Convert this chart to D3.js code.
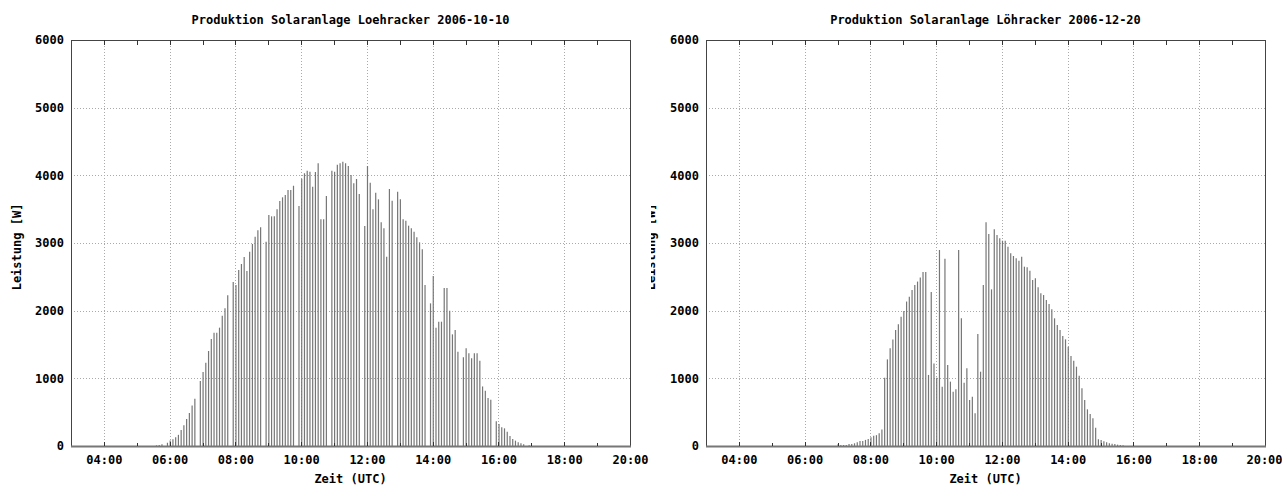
<!DOCTYPE html>
<html>
<head>
<meta charset="utf-8">
<script src="https://cdn.jsdelivr.net/npm/d3@7"></script>
<style>
  body { margin: 0; background: #fff; }
  svg { display: block; }
  text { font-family: "DejaVu Sans Mono", monospace; font-weight: bold; font-size: 12px; fill: #000; }
</style>
</head>
<body>
<svg width="1282" height="486"></svg>
<script>
// x axis: hours 03:00 .. 20:00, labels every 2 hours
const hourTicks = d3.range(3, 21);
const labelHours = d3.range(4, 21, 2);
const yTicks = [0, 1000, 2000, 3000, 4000, 5000, 6000];

const leftTitle = "Produktion Solaranlage Loehracker 2006-10-10";
const rightTitle = "Produktion Solaranlage Löhracker 2006-12-20";

// 5 minute samples, null = missing sample
const leftStart = "05:36";
const leftValues = [
  10, 15, 25, null, 48,
  82, 100, 130, 165, 235, 308, 400, 487, 600, 700, null, 960,
  1094, 1232, 1404, 1581, 1675, 1675, 1749, 1926, 2034, 2227, null, 2424,
  2379, 2601, 2690, 2794, 2586, 2872, 2985, 3094, 3187, 3231, null, 3020,
  3414, 3394, 3394, 3497, 3621, 3675, 3709, 3783, 3783, 3847, null, 3547,
  3950, 4030, 4069, 4054, 3832, 4050, 4177, 3350, 3350, 3695, null, 4069,
  4054, 4158, 4177, 4202, 4177, 4138, 4005, 3882, 3946, 3724, null, 3251,
  4138, 3892, 3497, 3744, 3645, 3305, 3217, 2798, 3798, 3626, null, 3759,
  3645, 3350, 3330, 3256, 3217, 3167, 3084, 3010, 2906, 2379, null, 2108,
  2512, 1749, 1837, 1837, 2335, 2335, 2000, 1650, 1714, 1394, null, 1310,
  1443, 1369, 1296, 1369, 1369, 1261, 880, 815, 709, 685, null, 365,
  325, 276, 261, 212, 148, 103, 79, 54, 39, 25, null, 12
];

const rightStart = "07:01";
const rightValues = [
  25, 15, 15, 15, 30, 30, 40, 55, 75, 75, 90, 105, 130, 150, 160, 190, 245,
  1010, 1280, 1445, 1575, 1715, 1800, 1910, 1995, 2135, 2205, 2305, 2380, 2430, 2490, 2570, 2570,
  1050, 2275, 1220, 1010, 2897, 877, 2768, 1197, 951, 803, 837, 2897,
  1887, 936, 1148, 680, 729, 483,
  1655, 1098, 2380, 3305, 3133, 2315, 3202, 3118, 3069, 3034, 3034, 2946,
  2847, 2808, 2773, 2739, 2798, 2650, 2640, 2591, 2453, 2478, 2345, 2256,
  2231, 2158, 2098, 2020, 1887, 1788, 1714, 1626, 1576, 1468, 1330, 1261,
  1172, 1039, 852, 680, 542, 473, 409, 271, 99, 89, 69, 54, 39, 34, 30, 20,
  15, 10
];

function toMin(s) {
  const p = s.split(":").map(Number);
  return p[0] * 60 + p[1];
}

function series(start, values) {
  const t0 = toMin(start);
  return values.map((v, i) => ({ t: t0 + i * 5, v: v })).filter(d => d.v != null);
}

const svg = d3.select("svg");
const pad = n => (n < 10 ? "0" : "") + n;

function drawChart(cfg) {
  const x = d3.scaleLinear().domain([3 * 60, 20 * 60]).range([cfg.x0, cfg.x1]);
  const y = d3.scaleLinear().domain([0, 6000]).range([446, 40]);
  const g = svg.append("g");

  // grid
  g.append("g").selectAll("line.vg")
    .data(labelHours.filter(h => h < 20))
    .enter().append("line")
    .attr("x1", h => Math.round(x(h * 60)) + 0.5).attr("x2", h => Math.round(x(h * 60)) + 0.5)
    .attr("y1", y(6000)).attr("y2", y(0))
    .attr("stroke", "#aaa").attr("stroke-dasharray", "1,2");
  g.append("g").selectAll("line.hg")
    .data(yTicks.filter(v => v > 0 && v < 6000))
    .enter().append("line")
    .attr("x1", cfg.x0).attr("x2", cfg.x1)
    .attr("y1", v => Math.round(y(v)) + 0.5).attr("y2", v => Math.round(y(v)) + 0.5)
    .attr("stroke", "#aaa").attr("stroke-dasharray", "1,2");

  // bars (impulses)
  g.append("g").selectAll("line.bar")
    .data(series(cfg.start, cfg.values))
    .enter().append("line")
    .attr("x1", d => x(d.t)).attr("x2", d => x(d.t))
    .attr("y1", y(0)).attr("y2", d => y(d.v))
    .attr("stroke", "#767676").attr("stroke-width", 1.2);

  // frame
  g.append("rect")
    .attr("x", cfg.x0 + 0.5).attr("y", y(6000) + 0.5)
    .attr("width", cfg.x1 - cfg.x0).attr("height", y(0) - y(6000))
    .attr("fill", "none").attr("stroke", "#444").attr("stroke-width", 1);
  g.append("line")
    .attr("x1", cfg.x0).attr("x2", cfg.x1 + 1)
    .attr("y1", y(0) + 0.5).attr("y2", y(0) + 0.5)
    .attr("stroke", "#777").attr("stroke-width", 2);

  // hour ticks top and bottom
  g.append("g").selectAll("line.tt")
    .data(hourTicks.slice(1, -1))
    .enter().append("line")
    .attr("x1", h => Math.round(x(h * 60)) + 0.5).attr("x2", h => Math.round(x(h * 60)) + 0.5)
    .attr("y1", y(6000)).attr("y2", y(6000) + 5)
    .attr("stroke", "#333");
  g.append("g").selectAll("line.bt")
    .data(hourTicks.slice(1, -1))
    .enter().append("line")
    .attr("x1", h => Math.round(x(h * 60)) + 0.5).attr("x2", h => Math.round(x(h * 60)) + 0.5)
    .attr("y1", y(0)).attr("y2", h => y(0) - (h % 2 === 0 ? 4 : 3))
    .attr("stroke", "#333");

  // x labels
  const xAxis = d3.axisBottom(x)
    .tickValues(labelHours.map(h => h * 60))
    .tickSize(0).tickPadding(0)
    .tickFormat(m => pad(m / 60) + ":00");
  const xa = g.append("g").attr("transform", "translate(0,455)").call(xAxis);
  xa.select(".domain").remove();
  xa.selectAll("text").attr("dy", "0.71em").attr("font-size", 12).attr("font-family", null)
    .attr("dx", m => (m === 20 * 60 && cfg.x1 > 1200 ? -1 : 0));

  // y labels
  const yAxis = d3.axisLeft(y).tickValues(yTicks).tickSize(0).tickPadding(0).tickFormat(d3.format("d"));
  const ya = g.append("g").attr("transform", "translate(" + (cfg.x0 - 7) + ",0)").call(yAxis);
  ya.select(".domain").remove();
  ya.selectAll("text").attr("font-size", 12).attr("font-family", null);

  // titles
  g.append("text")
    .attr("x", (cfg.x0 + cfg.x1) / 2).attr("y", 24)
    .attr("text-anchor", "middle")
    .text(cfg.title);
  g.append("text")
    .attr("x", (cfg.x0 + cfg.x1) / 2).attr("y", 483)
    .attr("text-anchor", "middle")
    .text("Zeit (UTC)");

  g.append("text")
    .attr("transform", "translate(" + cfg.ylx + ",247) rotate(-90)")
    .attr("text-anchor", "middle")
    .text("Leistung [W]");
}

drawChart({ x0: 71, x1: 630, title: leftTitle, start: leftStart, values: leftValues, ylx: 21 });
drawChart({ x0: 706, x1: 1265, title: rightTitle, start: rightStart, values: rightValues, ylx: 655 });

// the right chart's y label is cut by the image edge: only a sliver shows
svg.append("rect").attr("x", 640).attr("y", 180).attr("width", 11).attr("height", 130).attr("fill", "#fff");
</script>
</body>
</html>
